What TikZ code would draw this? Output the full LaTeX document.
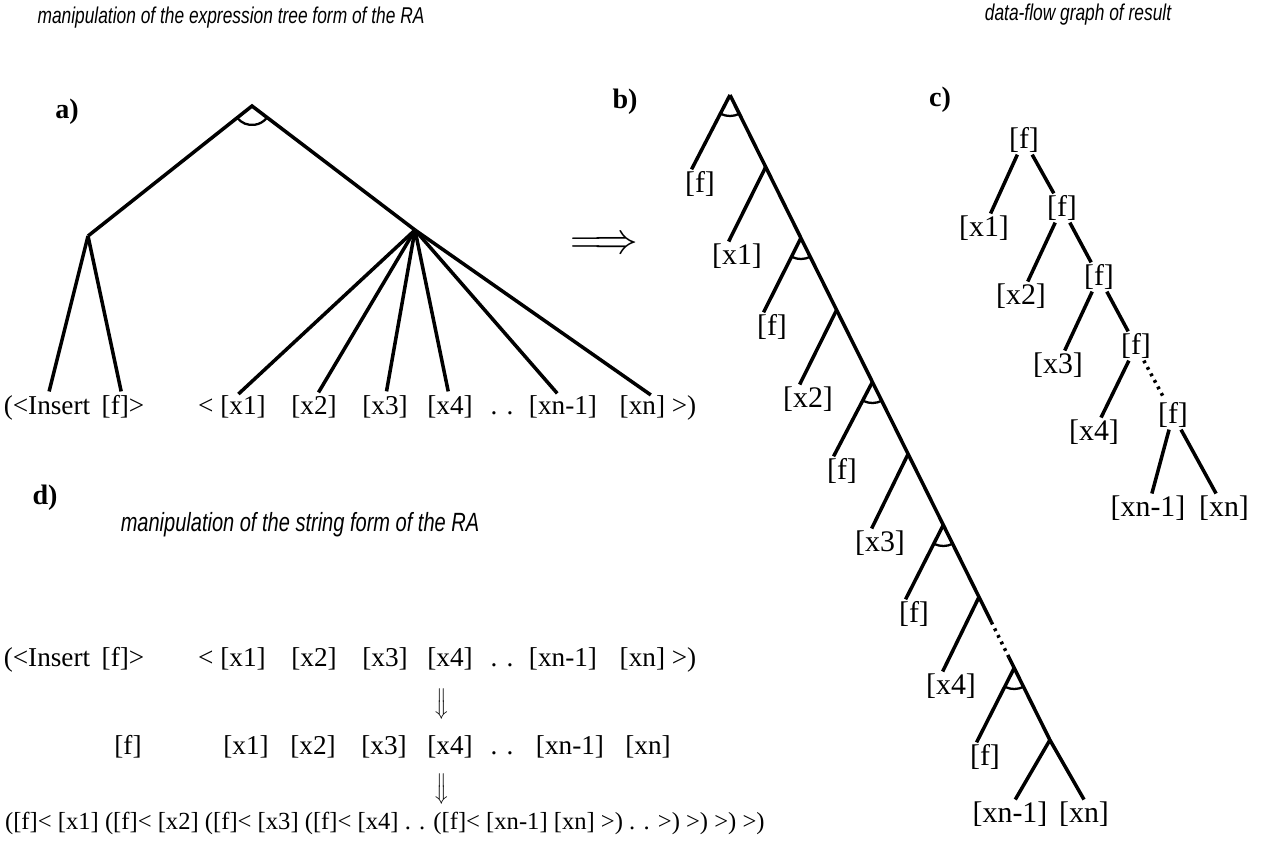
\documentclass[tikz,border=0pt]{standalone}
\usepackage{fontspec}
\setmainfont{Liberation Serif}
\newfontfamily\headsans[FakeStretch=0.76]{Liberation Sans}
\usetikzlibrary{calc}

\tikzset{
  branch/.style={line width=2pt},
  leafgap/.style={shorten >=5pt},
  dotbranch/.style={line width=2pt, dash pattern=on 1.6pt off 2.6pt},
  anglearc/.style={line width=1.3pt},
  leaf/.style={inner sep=1pt, text height=0.7em, text depth=0.2em, font=\fontsize{15.5}{18}\selectfont},
  tlabel/.style={inner sep=1pt, font=\fontsize{17}{20}\selectfont},
  partlabel/.style={font=\fontsize{16}{19}\selectfont\bfseries},
  heading/.style={font=\headsans\itshape\fontsize{13}{15}\selectfont},
  downarrow/.style={rotate=-90, inner sep=0pt, font=\fontsize{13}{14}\selectfont},
}

\begin{document}
\begin{tikzpicture}[x=0.02cm, y=-0.02cm]
  \useasboundingbox (0,0) rectangle (1262,845);

  % Headings
  \node (htree) [heading] at (231,18) {manipulation of the expression tree form of the RA};
  \node (hflow) [heading] at (1078,15) {data-flow graph of result};
  \node (hstring) [heading, font=\headsans\itshape\fontsize{15}{17}\selectfont] at (300,525)
    {manipulation of the string form of the RA};

  % Part labels
  \node (pa) [partlabel] at (67,112) {a)};
  \node (pb) [partlabel] at (625,102) {b)};
  \node (pc) [partlabel] at (940,100) {c)};
  \node (pd) [partlabel] at (45,498) {d)};

  % a) expression tree
  \coordinate (aroot) at (252,106);
  \coordinate (aleft) at (88,236);
  \coordinate (ahub) at (415,230);

  \node (ains) [leaf] at (47,410) {(<Insert};
  \node (af)   [leaf] at (123,410) {[f]>};
  \node (ax1)  [leaf] at (232,410) {< [x1]};
  \node (ax2)  [leaf] at (314,410) {[x2]};
  \node (ax3)  [leaf] at (385,410) {[x3]};
  \node (ax4)  [leaf] at (450,410) {[x4]};
  \node (adots)[leaf] at (502,410) {. .};
  \node (axm)  [leaf] at (563,410) {[xn-1]};
  \node (axn)  [leaf] at (658,410) {[xn] >)};

  \draw[branch] (aleft) -- (aroot) -- (ahub);
  \draw[anglearc] ([shift={(218:0.38cm)}]aroot) arc[start angle=218, end angle=323, radius=0.38cm];
  \draw[branch, leafgap] (aleft) -- (ains.north);
  \draw[branch, leafgap] (aleft) -- (af.north);
  \draw[branch, leafgap] (ahub) -- (ax1.north);
  \draw[branch, leafgap] (ahub) -- (ax2.north);
  \draw[branch, leafgap] (ahub) -- (ax3.north);
  \draw[branch, leafgap] (ahub) -- (ax4.north);
  \draw[branch, leafgap] (ahub) -- (axm.north);
  \draw[branch, leafgap] (ahub) -- (axn.north);

  % rewrite arrow
  \node (imply) [inner sep=0pt] at (604,245) {\fontsize{28}{32}\selectfont$\Longrightarrow$};

  % b) rewritten tree
  \coordinate (ba0) at (730,95);
  \coordinate (bj1) at (765.7,167);
  \coordinate (ba1) at (800.9,238);
  \coordinate (bj2) at (836.6,310);
  \coordinate (ba2) at (872.4,382);
  \coordinate (bj3) at (908.1,454);
  \coordinate (ba3) at (943.3,525);
  \coordinate (bj4) at (979.0,597);
  \coordinate (ba4) at (1014.2,668);
  \coordinate (bj5) at (1049.9,740);
  \coordinate (bdot1) at ($(bj4)!0.35!(ba4)$);
  \coordinate (bdot2) at ($(bj4)!0.85!(ba4)$);

  \node (bf0) [tlabel] at (700,184) {[f]};
  \node (bx1) [tlabel] at (737,256) {[x1]};
  \node (bf1) [tlabel] at (772,327) {[f]};
  \node (bx2) [tlabel] at (808,399) {[x2]};
  \node (bf2) [tlabel] at (842,471) {[f]};
  \node (bx3) [tlabel] at (880,543) {[x3]};
  \node (bf3) [tlabel] at (914,614) {[f]};
  \node (bx4) [tlabel] at (951,686) {[x4]};
  \node (bf4) [tlabel] at (985,757) {[f]};
  \node (bxm) [tlabel] at (1010,814) {[xn-1]};
  \node (bxn) [tlabel] at (1084,814) {[xn]};

  \draw[branch] (ba0) -- (bj1) -- (ba1) -- (bj2) -- (ba2) -- (bj3) -- (ba3) -- (bj4) -- (bdot1);
  \draw[dotbranch] (bdot1) -- (bdot2);
  \draw[branch] (bdot2) -- (ba4) -- (bj5) -- (bxn.north);
  \draw[branch] (ba0) -- (bf0.120);
  \draw[branch] (bj1) -- (bx1.120);
  \draw[branch] (ba1) -- (bf1.120);
  \draw[branch] (bj2) -- (bx2.120);
  \draw[branch] (ba2) -- (bf2.120);
  \draw[branch] (bj3) -- (bx3.120);
  \draw[branch] (ba3) -- (bf3.120);
  \draw[branch] (bj4) -- (bx4.120);
  \draw[branch] (ba4) -- (bf4.120);
  \draw[branch] (bj5) -- (bxm.70);
  \draw[anglearc] ([shift={(245:0.42cm)}]ba0) arc[start angle=245, end angle=296, radius=0.42cm];
  \draw[anglearc] ([shift={(245:0.42cm)}]ba1) arc[start angle=245, end angle=296, radius=0.42cm];
  \draw[anglearc] ([shift={(245:0.42cm)}]ba2) arc[start angle=245, end angle=296, radius=0.42cm];
  \draw[anglearc] ([shift={(245:0.42cm)}]ba3) arc[start angle=245, end angle=296, radius=0.42cm];
  \draw[anglearc] ([shift={(245:0.42cm)}]ba4) arc[start angle=245, end angle=296, radius=0.42cm];

  % c) data-flow graph
  \node (cf1) [tlabel] at (1024,140) {[f]};
  \node (cf2) [tlabel] at (1062,208) {[f]};
  \node (cf3) [tlabel] at (1099,277) {[f]};
  \node (cf4) [tlabel] at (1136,346) {[f]};
  \node (cf5) [tlabel] at (1173,415) {[f]};
  \node (cx1) [tlabel] at (984,228) {[x1]};
  \node (cx2) [tlabel] at (1021,296) {[x2]};
  \node (cx3) [tlabel] at (1058,365) {[x3]};
  \node (cx4) [tlabel] at (1094,432) {[x4]};
  \node (cxm) [tlabel] at (1148,508) {[xn-1]};
  \node (cxn) [tlabel] at (1224,508) {[xn]};

  \draw[branch] (cf1) -- (cx1);
  \draw[branch] (cf1) -- (cf2);
  \draw[branch] (cf2) -- (cx2);
  \draw[branch] (cf2) -- (cf3);
  \draw[branch] (cf3) -- (cx3);
  \draw[branch] (cf3) -- (cf4);
  \draw[branch] (cf4) -- (cx4);
  \draw[dotbranch, shorten >=3pt] (cf4) -- (cf5);
  \draw[branch] (cf5) -- (cxm);
  \draw[branch] (cf5) -- (cxn);

  % d) string form
  \node (dins) [leaf] at (47,662) {(<Insert};
  \node (df)   [leaf] at (123,662) {[f]>};
  \node (dx1)  [leaf] at (232,662) {< [x1]};
  \node (dx2)  [leaf] at (314,662) {[x2]};
  \node (dx3)  [leaf] at (385,662) {[x3]};
  \node (dx4)  [leaf] at (450,662) {[x4]};
  \node (ddots)[leaf] at (502,662) {. .};
  \node (dxm)  [leaf] at (563,662) {[xn-1]};
  \node (dxn)  [leaf] at (658,662) {[xn] >)};

  \node (down1) [downarrow] at (440,704) {$\Longrightarrow$};

  \node (ef)   [leaf] at (128,750) {[f]};
  \node (ex1)  [leaf] at (246,750) {[x1]};
  \node (ex2)  [leaf] at (313,750) {[x2]};
  \node (ex3)  [leaf] at (384,750) {[x3]};
  \node (ex4)  [leaf] at (450,750) {[x4]};
  \node (edots)[leaf] at (502,750) {. .};
  \node (exm)  [leaf] at (570,750) {[xn-1]};
  \node (exn)  [leaf] at (648,750) {[xn]};

  \node (down2) [downarrow] at (440,789) {$\Longrightarrow$};

  \node (nested) [leaf, font=\fontsize{14}{17}\selectfont, anchor=west] at (3,825)
    {([f]< [x1] ([f]< [x2] ([f]< [x3] ([f]< [x4] . . ([f]< [xn-1] [xn] >) . . >) >) >) >)};
\end{tikzpicture}
\end{document}
